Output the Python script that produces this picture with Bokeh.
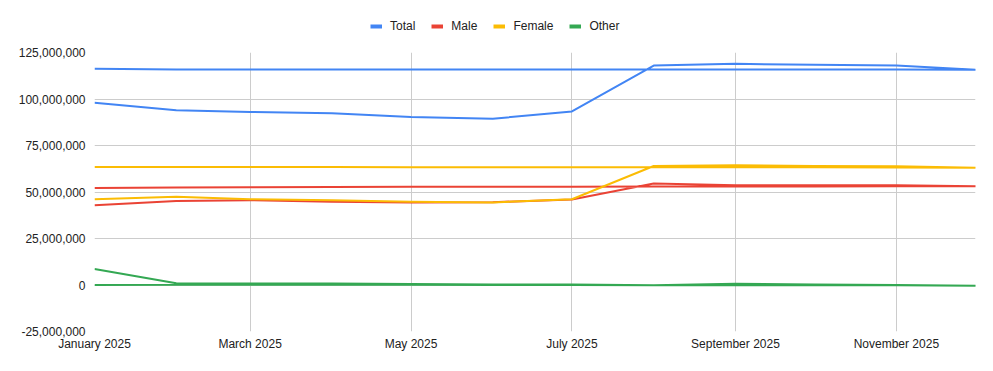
import datetime as dt
from bokeh.plotting import figure
from bokeh.layouts import column
from bokeh.models import (Legend, LegendItem, FixedTicker, DatetimeTickFormatter,
                          NumeralTickFormatter, Range1d)
from bokeh.embed import file_html
from bokeh.resources import INLINE

# ---- data (values in millions) ----
months = ["2025-01-01", "2025-02-01", "2025-03-01", "2025-04-01", "2025-05-01", "2025-06-01",
          "2025-07-01", "2025-08-01", "2025-09-01", "2025-10-01", "2025-11-01", "2025-12-01"]

# first pass through the months (Jan -> Dec)
total_fwd = [98.0, 93.9, 93.0, 92.4, 90.3, 89.4, 93.3, 118.0, 118.9, 118.4, 118.0, 115.7]
male_fwd = [42.9, 45.2, 45.6, 44.7, 44.4, 44.5, 46.0, 54.6, 53.6, 53.6, 53.6, 53.1]
female_fwd = [46.1, 47.4, 46.1, 45.6, 44.7, 44.4, 46.1, 64.0, 64.4, 64.0, 63.8, 63.1]
other_fwd = [8.6, 0.9, 0.8, 0.8, 0.5, 0.3, 0.3, -0.2, 0.7, 0.3, 0.0, -0.4]

# second pass (listed Jan -> Dec, drawn Dec -> Jan)
total_ret = [116.2, 115.9, 115.9, 115.9, 115.9, 115.8, 115.8, 115.8, 115.9, 115.9, 115.8, 115.7]
male_ret = [52.2, 52.4, 52.6, 52.7, 52.8, 52.8, 52.8, 52.9, 53.0, 53.0, 53.1, 53.1]
female_ret = [63.4, 63.4, 63.4, 63.4, 63.3, 63.3, 63.3, 63.3, 63.3, 63.3, 63.2, 63.1]
other_ret = [0.0, 0.1, 0.1, 0.1, 0.1, 0.0, 0.0, -0.1, -0.1, -0.2, -0.2, -0.4]

series_names = ["Total", "Male", "Female", "Other"]
colors = ["#4285F4", "#EA4335", "#FBBC04", "#34A853"]

y_ticks = [-25e6, 0, 25e6, 50e6, 75e6, 100e6, 125e6]
x_tick_months = ["2025-01-01", "2025-03-01", "2025-05-01", "2025-07-01", "2025-09-01", "2025-11-01"]


def to_ms(s):
    d = dt.datetime.strptime(s, "%Y-%m-%d").replace(tzinfo=dt.timezone.utc)
    return d.timestamp() * 1000.0


xs_fwd = [to_ms(m) for m in months]
xs = xs_fwd + xs_fwd[::-1]

W = 985
LEG_H = 44
H = 363 - LEG_H
BL, BR, BT, BB = 94, 10, 8, 32

# ---- legend strip ----
lf = figure(width=W, height=LEG_H, output_backend="svg", toolbar_location=None,
            x_range=Range1d(0, 1), y_range=Range1d(0, 1),
            x_axis_location=None, y_axis_location=None,
            min_border_left=0, min_border_right=0, min_border_top=0, min_border_bottom=0)
lf.outline_line_color = None
lf.xgrid.visible = False
lf.ygrid.visible = False
nan = float("nan")
leg_items = []
for name, col in zip(series_names, colors):
    d = lf.line([nan, nan], [nan, nan], line_color=col, line_width=4, line_cap="butt")
    leg_items.append(LegendItem(label=name, renderers=[d]))
legend = Legend(items=leg_items, orientation="horizontal", location=(276, 11),
                glyph_width=12, glyph_height=10, label_standoff=8, spacing=16,
                label_height=12, label_width=10,
                label_text_font="Liberation Sans", label_text_font_size="12px",
                label_text_color="#222222", border_line_color=None,
                background_fill_alpha=0, padding=0, margin=0)
lf.add_layout(legend, "center")

# ---- main chart ----
p = figure(width=W, height=H, x_axis_type="datetime", output_backend="svg",
           toolbar_location=None,
           x_range=Range1d(xs_fwd[0], xs_fwd[-1]),
           y_range=Range1d(y_ticks[0], y_ticks[-1]),
           min_border_left=BL, min_border_right=BR, min_border_top=BT, min_border_bottom=BB)
p.outline_line_color = None
p.background_fill_color = "white"
p.border_fill_color = "white"

data = [(total_fwd, total_ret), (male_fwd, male_ret), (female_fwd, female_ret), (other_fwd, other_ret)]
for name, col, (fwd, ret) in zip(series_names, colors, data):
    ys = [v * 1e6 for v in fwd] + [v * 1e6 for v in ret[::-1]]
    p.line(xs, ys, line_color=col, line_width=2, line_join="round")

p.xaxis.ticker = FixedTicker(ticks=[to_ms(m) for m in x_tick_months])
fmt = "%B %Y"
p.xaxis.formatter = DatetimeTickFormatter(microseconds=fmt, milliseconds=fmt, seconds=fmt,
                                          minsec=fmt, minutes=fmt, hourmin=fmt, hours=fmt,
                                          days=fmt, months=fmt, years=fmt)
p.yaxis.ticker = FixedTicker(ticks=y_ticks)
p.yaxis.formatter = NumeralTickFormatter(format="0,0")

for ax in (p.xaxis[0], p.yaxis[0]):
    ax.axis_line_color = None
    ax.major_tick_line_color = None
    ax.minor_tick_line_color = None
    ax.major_tick_in = 0
    ax.major_tick_out = 0
    ax.major_label_text_font = "Liberation Sans"
    ax.major_label_text_font_size = "12px"
    ax.major_label_text_color = "#222222"
p.xaxis.major_label_standoff = 5
p.yaxis.major_label_standoff = 9

p.xgrid.ticker = p.xaxis.ticker
p.ygrid.ticker = p.yaxis.ticker
p.xgrid.grid_line_color = "#cccccc"
p.ygrid.grid_line_color = "#cccccc"

layout = column(lf, p, spacing=0)
open("out.html", "w").write(file_html(layout, INLINE))
